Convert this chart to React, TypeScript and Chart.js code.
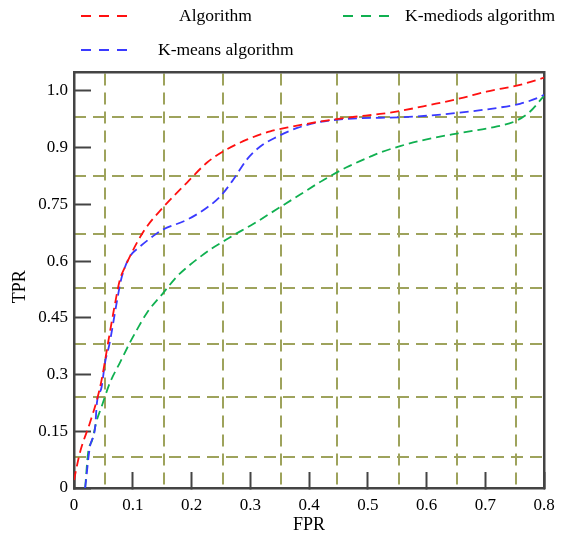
import React, { useEffect, useRef } from "react";
import { Chart, registerables } from "chart.js";

Chart.register(...registerables);

// ----- Data -----
const fprAlgorithm = [0, 0.01, 0.027, 0.039, 0.047, 0.058, 0.07, 0.078, 0.087, 0.117, 0.151, 0.192, 0.226, 0.254, 0.294, 0.334, 0.373, 0.419, 0.475, 0.521, 0.555, 0.606, 0.657, 0.702, 0.759, 0.8];
const tprAlgorithm = [0.021, 0.093, 0.172, 0.233, 0.286, 0.384, 0.489, 0.55, 0.585, 0.675, 0.741, 0.807, 0.86, 0.89, 0.921, 0.943, 0.956, 0.969, 0.981, 0.989, 0.997, 1.013, 1.03, 1.048, 1.066, 1.085];

const fprKMeans = [0.019, 0.027, 0.036, 0.039, 0.047, 0.053, 0.06, 0.072, 0.08, 0.087, 0.095, 0.112, 0.14, 0.151, 0.192, 0.226, 0.249, 0.271, 0.294, 0.317, 0.346, 0.38, 0.419, 0.465, 0.521, 0.555, 0.606, 0.654, 0.72, 0.759, 0.79, 0.8];
const tprKMeans = [0, 0.108, 0.161, 0.225, 0.267, 0.333, 0.378, 0.484, 0.55, 0.585, 0.612, 0.638, 0.672, 0.683, 0.709, 0.741, 0.771, 0.815, 0.868, 0.903, 0.929, 0.952, 0.968, 0.976, 0.979, 0.98, 0.985, 0.992, 1.005, 1.016, 1.032, 1.04];

const fprKMediods = [0.019, 0.024, 0.031, 0.039, 0.047, 0.061, 0.078, 0.095, 0.107, 0.124, 0.152, 0.175, 0.195, 0.212, 0.234, 0.254, 0.271, 0.305, 0.345, 0.385, 0.424, 0.464, 0.504, 0.521, 0.555, 0.589, 0.654, 0.72, 0.754, 0.776, 0.8];
const tprKMediods = [0, 0.093, 0.127, 0.18, 0.215, 0.278, 0.331, 0.384, 0.418, 0.463, 0.516, 0.559, 0.587, 0.608, 0.633, 0.652, 0.668, 0.698, 0.737, 0.776, 0.814, 0.848, 0.876, 0.887, 0.904, 0.918, 0.938, 0.956, 0.972, 0.995, 1.037];

const seriesNames = ["Algorithm", "K-means algorithm", "K-mediods algorithm"];

const xTickValues = [0, 0.1, 0.2, 0.3, 0.4, 0.5, 0.6, 0.7, 0.8];
const xTickLabels = ["0", "0.1", "0.2", "0.3", "0.4", "0.5", "0.6", "0.7", "0.8"];
const yTickValues = [0, 0.15, 0.3, 0.45, 0.6, 0.75, 0.9, 1.05];
const yTickLabels = ["0", "0.15", "0.3", "0.45", "0.6", "0.75", "0.9", "1.0"];
const xGridValues = [0.053, 0.154, 0.254, 0.353, 0.448, 0.553, 0.652, 0.753];
const yGridValues = [0.081, 0.2415, 0.381, 0.53, 0.671, 0.825, 0.98];

const RED = "#ff1010";
const BLUE = "#3a3aff";
const GREEN = "#10b050";
const GRID = "#9ea35c";
const AXIS = "#444444";
const FONT = "'Liberation Serif', 'Times New Roman', serif";

const zip = (xs: number[], ys: number[]) => xs.map((x, i) => ({ x, y: ys[i] }));

function LegendItem({ color, label, left, top, textLeft }: { color: string; label: string; left: number; top: number; textLeft: number }) {
  return (
    <>
      <svg style={{ position: "absolute", left, top: top - 2 }} width={48} height={4}>
        <line x1={0} y1={2} x2={48} y2={2} stroke={color} strokeWidth={2} strokeDasharray="10 8" />
      </svg>
      <div
        style={{
          position: "absolute",
          left: textLeft,
          top: top - 11,
          fontFamily: FONT,
          fontSize: 17.5,
          lineHeight: "20px",
          color: "#000",
          whiteSpace: "nowrap",
        }}
      >
        {label}
      </div>
    </>
  );
}

export default function App() {
  const ref = useRef<HTMLCanvasElement | null>(null);

  useEffect(() => {
    if (!ref.current) return;
    const tickFont = { family: FONT, size: 17 };
    const titleFont = { family: FONT, size: 18 };
    const chart = new Chart(ref.current, {
      type: "line",
      data: {
        datasets: [
          { label: seriesNames[0], data: zip(fprAlgorithm, tprAlgorithm), borderColor: RED },
          { label: seriesNames[1], data: zip(fprKMeans, tprKMeans), borderColor: BLUE },
          { label: seriesNames[2], data: zip(fprKMediods, tprKMediods), borderColor: GREEN },
        ].map((d) => ({
          ...d,
          borderWidth: 1.8,
          borderDash: [9, 5],
          pointRadius: 0,
          fill: false,
          cubicInterpolationMode: "monotone" as const,
        })),
      },
      options: {
        animation: false,
        responsive: false,
        devicePixelRatio: 1,
        layout: { padding: { left: 0, top: 72, right: 17, bottom: 0 } },
        plugins: { legend: { display: false }, tooltip: { enabled: false } },
        scales: {
          x: {
            type: "linear",
            position: "bottom",
            min: 0,
            max: 0.8,
            afterBuildTicks: (s: any) => {
              s.ticks = xTickValues.map((v) => ({ value: v }));
            },
            afterFit: (s: any) => {
              s.height = 52;
              s.paddingLeft = 0;
              s.paddingRight = 0;
            },
            ticks: {
              autoSkip: false,
              maxRotation: 0,
              padding: 23,
              color: "#000",
              font: tickFont,
              callback: (_v: any, i: number) => xTickLabels[i],
            },
            grid: {
              display: true,
              drawOnChartArea: false,
              drawTicks: true,
              tickLength: -16,
              tickColor: AXIS,
              tickWidth: 2,
            },
            border: { display: true, color: AXIS, width: 2.5 },
            title: { display: true, text: "FPR", color: "#000", font: titleFont, padding: { top: 0, bottom: 4 } },
          },
          y: {
            type: "linear",
            position: "left",
            min: 0,
            max: 1.1,
            afterBuildTicks: (s: any) => {
              s.ticks = yTickValues.map((v) => ({ value: v }));
            },
            afterFit: (s: any) => {
              s.width = 74;
              s.paddingTop = 0;
              s.paddingBottom = 0;
            },
            ticks: {
              autoSkip: false,
              padding: 23,
              color: "#000",
              font: tickFont,
              callback: (_v: any, i: number) => yTickLabels[i],
            },
            grid: {
              display: true,
              drawOnChartArea: false,
              drawTicks: true,
              tickLength: -17,
              tickColor: AXIS,
              tickWidth: 2,
            },
            border: { display: true, color: AXIS, width: 2.5 },
            title: { display: true, text: "TPR   ", color: "#000", font: titleFont, padding: { top: 9, bottom: 0 } },
          },
          xg: {
            type: "linear",
            position: "top",
            min: 0,
            max: 0.8,
            afterBuildTicks: (s: any) => {
              s.ticks = xGridValues.map((v) => ({ value: v }));
            },
            afterFit: (s: any) => {
              s.height = 0;
              s.paddingLeft = 0;
              s.paddingRight = 0;
            },
            ticks: { display: false },
            grid: { display: true, drawOnChartArea: true, drawTicks: false, color: GRID, lineWidth: 2 },
            border: { display: true, color: AXIS, width: 2.5, dash: [12, 7] },
          },
          yg: {
            type: "linear",
            position: "right",
            min: 0,
            max: 1.1,
            afterBuildTicks: (s: any) => {
              s.ticks = yGridValues.map((v) => ({ value: v }));
            },
            afterFit: (s: any) => {
              s.width = 0;
              s.paddingTop = 0;
              s.paddingBottom = 0;
            },
            ticks: { display: false },
            grid: { display: true, drawOnChartArea: true, drawTicks: false, color: GRID, lineWidth: 2 },
            border: { display: true, color: AXIS, width: 2.5, dash: [12, 7] },
          },
        },
      } as any,
    });
    return () => chart.destroy();
  }, []);

  return (
    <div style={{ position: "absolute", left: 0, top: 0, width: 561, height: 540, background: "#fff" }}>
      <canvas ref={ref} width={561} height={540} style={{ position: "absolute", left: 0, top: 0, width: 561, height: 540 }} />
      <LegendItem color={RED} label={seriesNames[0]} left={81} top={16} textLeft={179} />
      <LegendItem color={GREEN} label={seriesNames[2]} left={343} top={16} textLeft={405} />
      <LegendItem color={BLUE} label={seriesNames[1]} left={81} top={50} textLeft={158} />
    </div>
  );
}
